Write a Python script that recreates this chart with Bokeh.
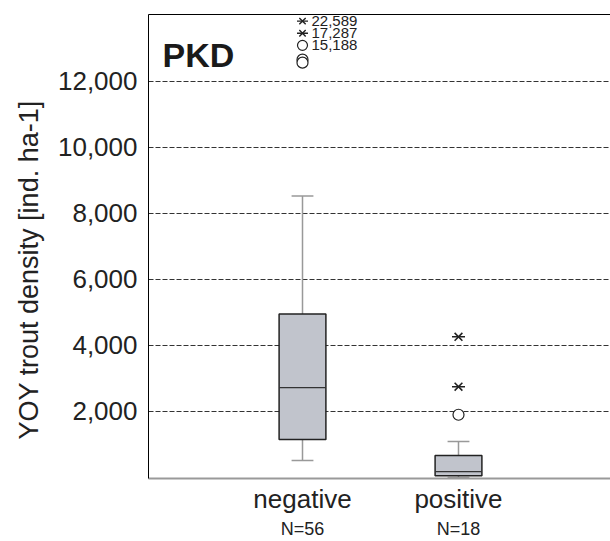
from bokeh.plotting import figure
from bokeh.models import Range1d, LinearAxis, FixedTicker, NumeralTickFormatter, ColumnDataSource, Title
from bokeh.core.properties import value
from bokeh.embed import file_html
from bokeh.resources import INLINE

# ---- data ----
categories = ["negative", "positive"]
n_obs = [56, 18]
positions = [1, 2]
whisker_low = [515, 0]
q1 = [1150, 50]
median = [2720, 180]
q3 = [4950, 665]
whisker_high = [8520, 1090]

outlier_cat = [1, 1, 2]
outlier_val = [12650, 12560, 1900]
extreme_cat = [2, 2]
extreme_val = [4260, 2750]

offscale_cat = [1, 1, 1]
offscale_val = [22589, 17287, 15188]
offscale_kind = ["extreme", "extreme", "outlier"]

y_ticks = [2000, 4000, 6000, 8000, 10000, 12000]
y_label = "YOY trout density [ind. ha-1]"

FONT = "Liberation Sans"
Y_END = 14018

p = figure(width=610, height=541, x_range=Range1d(0.0128, 2.9744), y_range=Range1d(-30, Y_END),
           output_backend="svg", toolbar_location=None,
           min_border_left=148, min_border_top=14, min_border_right=0, min_border_bottom=0)
p.outline_line_color = None
p.background_fill_color = "white"

# grid
p.xgrid.visible = False
p.ygrid.ticker = FixedTicker(ticks=y_ticks)
p.ygrid.grid_line_color = "#333333"
p.ygrid.grid_line_dash = "5 2"
p.ygrid.grid_line_width = 1

# y axis
p.yaxis.ticker = FixedTicker(ticks=y_ticks)
p.yaxis.formatter = NumeralTickFormatter(format="0,0")
p.yaxis.major_label_text_font = FONT
p.yaxis.major_label_text_font_size = "26px"
p.yaxis.major_label_text_color = "#222222"
p.yaxis.major_label_standoff = 11
p.yaxis.major_tick_out = 0
p.yaxis.major_tick_in = 0
p.yaxis.minor_tick_out = 0
p.yaxis.minor_tick_in = 0
p.yaxis.axis_line_color = "black"

# y axis title as a side title so that it can sit a little below the centre
p.add_layout(Title(text=y_label, align="left", offset=39, standoff=22,
                   text_font=FONT, text_font_size="27px", text_font_style="normal",
                   text_color="#222222"), "left")

# x axis (category names)
p.xaxis.ticker = FixedTicker(ticks=positions)
p.xaxis.major_label_overrides = {pos: cat for pos, cat in zip(positions, categories)}
p.xaxis.major_label_text_font = FONT
p.xaxis.major_label_text_font_size = "26px"
p.xaxis.major_label_text_color = "#222222"
p.xaxis.major_label_standoff = 5
p.xaxis.major_tick_out = 0
p.xaxis.major_tick_in = 0
p.xaxis.minor_tick_out = 0
p.xaxis.minor_tick_in = 0
p.xaxis.axis_line_color = "#999999"
p.xaxis.axis_line_width = 2

# second x axis (N labels)
n_axis = LinearAxis(ticker=FixedTicker(ticks=positions),
                    major_label_overrides={pos: f"N={n}" for pos, n in zip(positions, n_obs)},
                    major_label_text_font=FONT, major_label_text_font_size="18px",
                    major_label_text_color="#222222", major_label_standoff=2,
                    major_tick_out=0, major_tick_in=0, minor_tick_out=0, minor_tick_in=0,
                    axis_line_color=None)
p.add_layout(n_axis, "below")

# top border
top_axis = LinearAxis(ticker=FixedTicker(ticks=[]), major_label_text_font_size="0px",
                      major_tick_out=0, major_tick_in=0, minor_tick_out=0, minor_tick_in=0,
                      axis_line_color="black", axis_line_width=1)
p.add_layout(top_axis, "above")

BOX_W = 0.30
CAP_W = 0.14

# whiskers
p.segment(x0=positions, y0=q3, x1=positions, y1=whisker_high, line_color="#999999", line_width=1.5)
p.segment(x0=positions, y0=q1, x1=positions, y1=whisker_low, line_color="#999999", line_width=1.5)
p.segment(x0=[x - CAP_W / 2 for x in positions], y0=whisker_high,
          x1=[x + CAP_W / 2 for x in positions], y1=whisker_high, line_color="#999999", line_width=1.5)
p.segment(x0=[x - CAP_W / 2 for x in positions], y0=whisker_low,
          x1=[x + CAP_W / 2 for x in positions], y1=whisker_low, line_color="#999999", line_width=1.5)

# boxes
p.vbar(x=positions, width=BOX_W, bottom=q1, top=q3, fill_color="#c1c4cc",
       line_color="#222222", line_width=1.5)
p.segment(x0=[x - BOX_W / 2 for x in positions], y0=median,
          x1=[x + BOX_W / 2 for x in positions], y1=median, line_color="#333333", line_width=1.2)

# outliers
p.scatter(x=outlier_cat, y=outlier_val, marker="circle", size=11, fill_color="white",
          line_color="#222222", line_width=1.2)
p.scatter(x=extreme_cat, y=extreme_val, marker="x", size=11, line_color="#222222", line_width=1.6)
p.scatter(x=extreme_cat, y=extreme_val, marker="dash", size=13, line_color="#222222", line_width=1.6)

# off-scale values stacked at the top with labels
STEP = 367
off_y = [Y_END - 200 - i * STEP for i in range(len(offscale_val))]
off_src = ColumnDataSource(dict(
    x=offscale_cat, y=off_y,
    label=[f"{v:,}" for v in offscale_val],
))
ext_idx = [i for i, k in enumerate(offscale_kind) if k == "extreme"]
out_idx = [i for i, k in enumerate(offscale_kind) if k == "outlier"]
p.scatter(x=[offscale_cat[i] for i in ext_idx], y=[off_y[i] for i in ext_idx], marker="x",
          size=9, line_color="#222222", line_width=1.4)
p.scatter(x=[offscale_cat[i] for i in ext_idx], y=[off_y[i] for i in ext_idx], marker="dash",
          size=11, line_color="#222222", line_width=1.4)
p.scatter(x=[offscale_cat[i] for i in out_idx], y=[off_y[i] for i in out_idx], marker="circle",
          size=10, fill_color="white", line_color="#222222", line_width=1.2)
p.text(x="x", y="y", text="label", source=off_src, x_offset=9, text_baseline="middle",
       text_align="left", text_font=value(FONT), text_font_size="15px", text_color="#222222")

# panel title
p.text(x=[0.1026], y=[12780], text=["PKD"], text_font=value(FONT), text_font_size="34px",
       text_font_style="bold", text_color="#1a1a1a", text_baseline="alphabetic", text_align="left")

open("out.html", "w").write(file_html(p, INLINE))
